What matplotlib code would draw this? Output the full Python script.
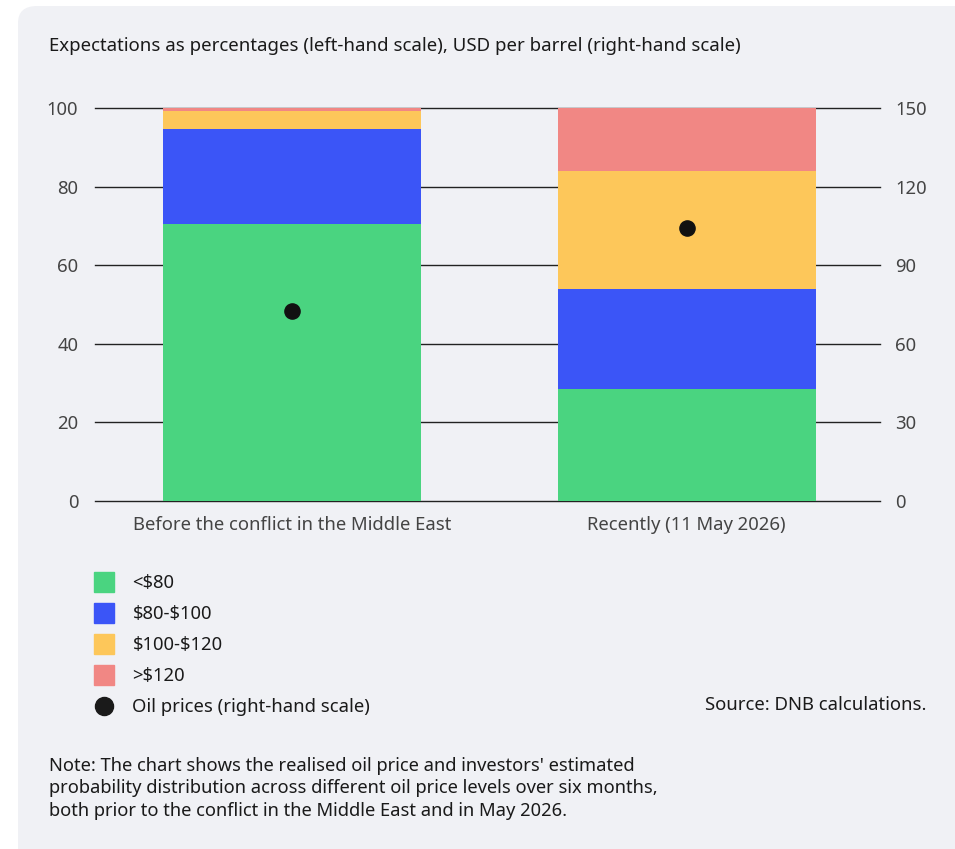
import matplotlib.pyplot as plt
from matplotlib.lines import Line2D
from matplotlib.patches import FancyBboxPatch

plt.rcParams['font.family'] = ['Noto Sans', 'DejaVu Sans']

# probability of each oil price band (percent), per period
periods = ['Before the conflict in the Middle East', 'Recently (11 May 2026)']
bands = [r'<\$80', r'\$80-\$100', r'\$100-\$120', r'>\$120']
shares = {
    r'<\$80': [70.5, 28.5],
    r'\$80-\$100': [24.2, 25.4],
    r'\$100-\$120': [4.5, 30.1],
    r'>\$120': [0.8, 16.0],
}
oil_price = [72.5, 104.1]  # USD per barrel

colors = ['#4ad480', '#3b55f7', '#fdc75a', '#f18784']
left_ticks = [0, 20, 40, 60, 80, 100]
right_ticks = [0, 30, 60, 90, 120, 150]

fig = plt.figure(figsize=(9.55, 8.49), dpi=100)
fig.patch.set_facecolor('white')
panel = FancyBboxPatch((18 / 955, -0.05), 1.0, 1.0 - 6 / 849 + 0.05,
                       boxstyle='round,pad=0,rounding_size=0.02',
                       transform=fig.transFigure, facecolor='#f0f1f5',
                       edgecolor='none', zorder=-10)
fig.patches.append(panel)

ax = fig.add_axes([95 / 955, (849 - 501) / 849, 785 / 955, 393 / 849])
ax.set_facecolor('none')
x = list(range(len(periods)))
bottom = [0.0] * len(periods)
for band, col in zip(bands, colors):
    vals = shares[band]
    ax.bar(x, vals, bottom=bottom, width=0.653, color=col, zorder=2)
    bottom = [b + v for b, v in zip(bottom, vals)]

ax.set_xlim(-0.5, 1.49)
ax.set_ylim(0, 100)
ax.set_yticks(left_ticks)
for t in left_ticks:
    ax.axhline(t, color='#222222', lw=1.0, zorder=1, clip_on=False)
ax.set_xticks(x)
ax.set_xticklabels(periods)
for s in ax.spines.values():
    s.set_visible(False)
ax.tick_params(axis='both', length=0, labelsize=13.3, colors='#444444')
ax.tick_params(axis='x', pad=11)
ax.tick_params(axis='y', pad=12)

ax2 = ax.twinx()
ax2.set_ylim(0, 150)
ax2.set_yticks(right_ticks)
for s in ax2.spines.values():
    s.set_visible(False)
ax2.tick_params(axis='y', length=0, labelsize=13.3, colors='#444444', pad=11)
ax2.scatter(x, oil_price, s=120, color='#111111', zorder=5)

fig.text(49 / 955, 1 - 46 / 849, 'Expectations as percentages (left-hand scale), '
         'USD per barrel (right-hand scale)', fontsize=13.4, color='#1a1a1a',
         va='center', ha='left')

handles = [Line2D([], [], marker='s', ms=14, color=c, linestyle='none') for c in colors]
handles.append(Line2D([], [], marker='o', ms=13, color='#1a1a1a', linestyle='none'))
labels = bands + ['Oil prices (right-hand scale)']
fig.legend(handles, labels, loc='upper left', bbox_to_anchor=(78 / 955, 1 - 567 / 849),
           frameon=False, fontsize=13.3, labelspacing=0.70, handletextpad=0.55,
           borderaxespad=0, labelcolor='#1a1a1a')

fig.text(926 / 955, 1 - 705 / 849, 'Source: DNB calculations.', fontsize=13.3,
         color='#1a1a1a', ha='right', va='center')

fig.text(49 / 955, 1 - 757 / 849,
         "Note: The chart shows the realised oil price and investors' estimated\n"
         "probability distribution across different oil price levels over six months,\n"
         "both prior to the conflict in the Middle East and in May 2026.",
         fontsize=13.2, color='#1a1a1a', ha='left', va='top', linespacing=1.32)

fig.savefig('out.png', dpi=100, facecolor=fig.get_facecolor())
